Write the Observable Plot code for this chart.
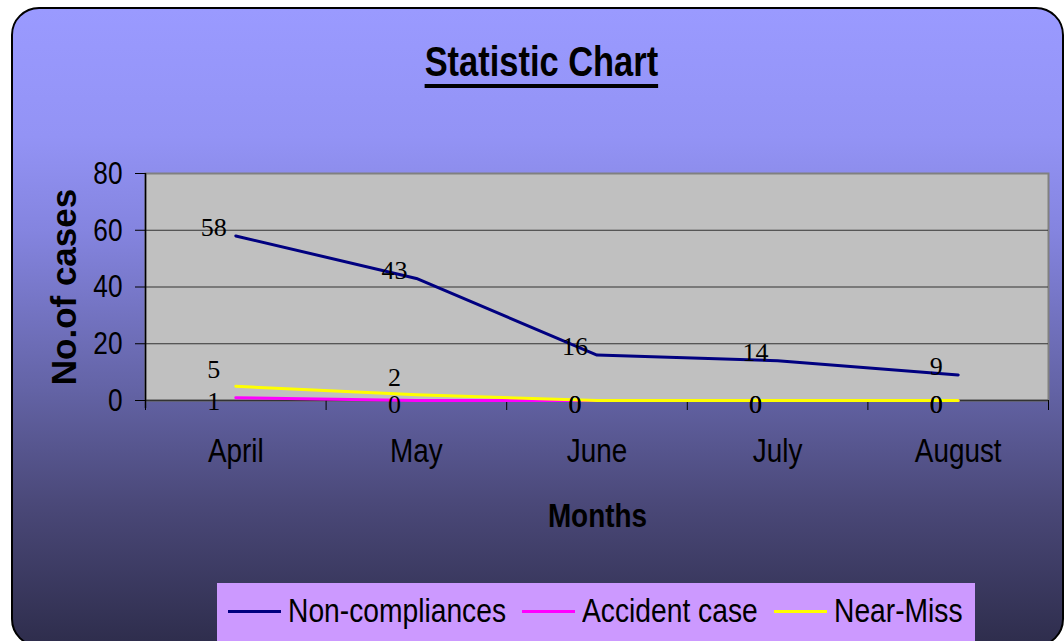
<!DOCTYPE html>
<html>
<head>
<meta charset="utf-8">
<script src="https://cdn.jsdelivr.net/npm/d3@7"></script>
<script src="https://cdn.jsdelivr.net/npm/@observablehq/plot@0.6"></script>
<style>
  html, body { margin: 0; padding: 0; background: #ffffff; width: 1064px; height: 641px; overflow: hidden; }
  #frame {
    position: absolute; left: 11px; top: 7px; width: 1053px; height: 640px;
    box-sizing: border-box; border: 2px solid #000; border-radius: 28px;
    background: linear-gradient(to bottom, #9a9aff 0%, #9393f5 20%, #8484df 35%, #6363a5 60%, #4a4878 78%, #2e2d4c 100%);
  }
  #chart { position: absolute; left: 0; top: 0; }
  .sans { font-family: "Liberation Sans", Arial, sans-serif; color: #000; }
  .squeeze { display: inline-block; transform: scaleX(0.82); transform-origin: 50% 50%; white-space: nowrap; }
  #title {
    position: absolute; left: 341px; top: 41px; width: 400px; text-align: center;
    font-size: 42px; line-height: 42px; font-weight: bold;
  }
  #title span { text-decoration: underline; text-decoration-thickness: 4px; text-underline-offset: 8px; }
  #xlabel {
    position: absolute; left: 497px; top: 498px; width: 200px; text-align: center;
    font-size: 34px; line-height: 34px; font-weight: bold;
  }
  #ylabel {
    position: absolute; left: -86px; top: 267px; width: 300px; height: 40px; line-height: 40px;
    text-align: center; transform: rotate(-90deg);
    font-size: 35px; font-weight: bold;
  }
  #legend {
    position: absolute; left: 217px; top: 583px; width: 758px; height: 60px;
    background: #cc99ff; font-size: 34px;
  }
  #legend .sw { position: absolute; top: 27px; width: 53px; height: 3px; }
  #legend .lt { position: absolute; top: 10px; line-height: 34px; white-space: nowrap; transform-origin: 0 50%; transform: scaleX(0.83); }
</style>
</head>
<body>
<div id="frame"></div>
<div id="chart"></div>
<div id="title" class="sans"><span class="squeeze">Statistic Chart</span></div>
<div id="xlabel" class="sans"><span class="squeeze">Months</span></div>
<div id="ylabel" class="sans">No.of cases</div>
<div id="legend" class="sans"></div>
<script>
// ---- data ----
const months = ["April", "May", "June", "July", "August"];
const nonCompliances = [58, 43, 16, 14, 9];
const accidentCase = [1, 0, 0, 0, 0];
const nearMiss = [5, 2, 0, 0, 0];
const yTicks = [0, 20, 40, 60, 80];
const seriesNames = ["Non-compliances", "Accident case", "Near-Miss"];
const seriesColors = ["#000080", "#ff00ff", "#ffff00"];

// ---- tables ----
const rows = (vals) => months.map((m, i) => ({month: m, i, value: vals[i]}));
const nc = rows(nonCompliances);
const ac = rows(accidentCase);
const nm = rows(nearMiss);
const monthIdx = months.map((m, i) => i);
const bounds = months.map((m, i) => i - 0.5).concat([months.length - 0.5]);

const sans = "'Liberation Sans', Arial, sans-serif";
const serif = "'Liberation Serif', 'Times New Roman', serif";
const SQUEEZE = 0.82;

const labelOpts = (extra) => Object.assign({
  x: "i", y: "value", text: d => String(d.value),
  fontFamily: serif, fontSize: 26, fill: "#000", dx: -22
}, extra);

const plot = Plot.plot({
  width: 1064,
  height: 641,
  marginLeft: 145,
  marginRight: 16,
  marginTop: 173,
  marginBottom: 241,
  style: {background: "transparent", color: "#000", fontFamily: sans},
  x: {type: "linear", domain: [-0.5, months.length - 0.5]},
  y: {domain: [0, 80]},
  marks: [
    Plot.frame({fill: "#c0c0c0", stroke: "#808080", strokeWidth: 2}),
    Plot.ruleY(yTicks.filter(t => t > 0 && t < 80), {stroke: "#333", strokeWidth: 1.2}),
    Plot.ruleY([0], {stroke: "#333", strokeWidth: 1.5}),
    Plot.ruleX([-0.5], {stroke: "#000", strokeWidth: 1.5, insetBottom: -8}),
    Plot.axisY({ticks: yTicks, tickSize: 10, tickPadding: 13, fontSize: 32, fontFamily: sans, label: null, stroke: "#000", className: "sq"}),
    Plot.axisX(bounds, {tickSize: 10, tickFormat: () => "", label: null, stroke: "#000"}),
    Plot.axisX(monthIdx, {tickSize: 0, tickPadding: 37, tickFormat: i => months[i], fontSize: 34, fontFamily: sans, label: null, className: "sq"}),
    Plot.line(nc, {x: "i", y: "value", stroke: seriesColors[0], strokeWidth: 3}),
    Plot.line(ac, {x: "i", y: "value", stroke: seriesColors[1], strokeWidth: 3}),
    Plot.line(nm, {x: "i", y: "value", stroke: seriesColors[2], strokeWidth: 3}),
    Plot.text(nc, labelOpts({dy: -8})),
    Plot.text(ac, labelOpts({dy: 4})),
    Plot.text(nm, labelOpts({filter: d => d.value > 0, dy: -17})),
    Plot.text(nm, labelOpts({filter: d => d.value === 0, dy: 4}))
  ]
});
document.getElementById("chart").appendChild(plot);

// narrow (condensed) look for axis tick labels: squeeze each text horizontally around its anchor
plot.querySelectorAll("g[aria-label='y-axis tick label'] text, g[aria-label='x-axis tick label'] text, .sq text").forEach(t => {
  const px = +(t.getAttribute("x") || 0);
  const tr = t.getAttribute("transform") || "";
  if (tr.includes("scale(")) return;
  t.setAttribute("transform", `${tr} translate(${px},0) scale(${SQUEEZE},1) translate(${-px},0)`);
});

// ---- legend ----
const legend = document.getElementById("legend");
let cursor = 11;
seriesNames.forEach((name, k) => {
  const sw = document.createElement("span");
  sw.className = "sw";
  sw.style.background = seriesColors[k];
  sw.style.left = cursor + "px";
  legend.appendChild(sw);
  cursor += 53 + 7;
  const t = document.createElement("span");
  t.className = "lt";
  t.textContent = name;
  t.style.left = cursor + "px";
  legend.appendChild(t);
  cursor += t.getBoundingClientRect().width + 16;
});
</script>
</body>
</html>
